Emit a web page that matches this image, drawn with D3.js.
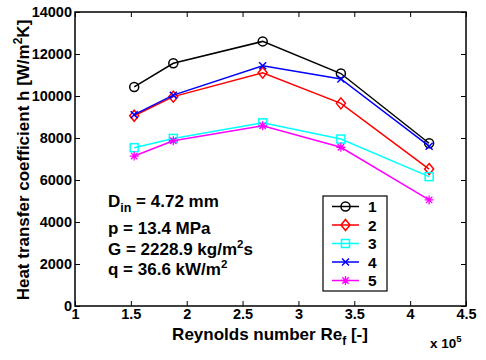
<!DOCTYPE html>
<html>
<head>
<meta charset="utf-8">
<script src="https://cdn.jsdelivr.net/npm/d3@7"></script>
<style>
  html, body { margin: 0; padding: 0; background: #fff; }
  svg { display: block; font-family: "Liberation Sans", Arial, Helvetica, sans-serif; font-weight: bold; }
</style>
</head>
<body>
<svg id="chart" width="486" height="360"></svg>
<script>
// Reynolds numbers (x 10^5) shared by all runs
const reynolds = [1.53, 1.88, 2.68, 3.38, 4.17];

// Heat transfer coefficient h [W/m2K] for each run
const run1 = [10430, 11560, 12600, 11070, 7750];
const run2 = [9060, 9970, 11110, 9650, 6520];
const run3 = [7540, 7980, 8720, 7950, 6160];
const run4 = [9110, 10040, 11440, 10810, 7610];
const run5 = [7140, 7870, 8580, 7560, 5050];

const seriesNames = ["1", "2", "3", "4", "5"];
const seriesColors = ["#000000", "#ff0000", "#00ffff", "#0000ff", "#ff00ff"];
const seriesMarkers = ["circle", "diamond", "square", "x", "star"];

const xTicks = [1, 1.5, 2, 2.5, 3, 3.5, 4, 4.5];
const yTicks = [0, 2000, 4000, 6000, 8000, 10000, 12000, 14000];

const svg = d3.select("#chart");
const m = { left: 75, top: 12, right: 466, bottom: 306 };

const x = d3.scaleLinear().domain([1, 4.5]).range([m.left, m.right]);
const y = d3.scaleLinear().domain([0, 14000]).range([m.bottom, m.top]);

// axes with inward ticks, mirrored on top/right
const tickLen = 5;
svg.append("g").attr("transform", `translate(0,${m.bottom})`)
  .call(d3.axisBottom(x).tickValues(xTicks).tickSizeInner(-tickLen).tickSizeOuter(0).tickPadding(3).tickFormat(d3.format("")))
  .call(g => g.select(".domain").remove());
svg.append("g").attr("transform", `translate(0,${m.top})`)
  .call(d3.axisTop(x).tickValues(xTicks).tickSizeInner(-tickLen).tickSizeOuter(0).tickFormat(""))
  .call(g => g.select(".domain").remove());
svg.append("g").attr("transform", `translate(${m.left},0)`)
  .call(d3.axisLeft(y).tickValues(yTicks).tickSizeInner(-tickLen).tickSizeOuter(0).tickPadding(3).tickFormat(d3.format("")))
  .call(g => g.select(".domain").remove());
svg.append("g").attr("transform", `translate(${m.right},0)`)
  .call(d3.axisRight(y).tickValues(yTicks).tickSizeInner(-tickLen).tickSizeOuter(0).tickFormat(""))
  .call(g => g.select(".domain").remove());

svg.selectAll(".tick line").attr("stroke", "#000").attr("stroke-width", 1);
svg.selectAll(".tick text")
  .attr("font-family", "'Liberation Sans', Arial, sans-serif")
  .attr("font-weight", "bold").attr("font-size", 14.5).attr("fill", "#000");

// plot box
svg.append("rect")
  .attr("x", m.left).attr("y", m.top)
  .attr("width", m.right - m.left).attr("height", m.bottom - m.top)
  .attr("fill", "none").attr("stroke", "#000").attr("stroke-width", 1.5);

// marker drawing
function drawMarker(g, type, cx, cy, color) {
  const s = 4.5;
  if (type === "circle") {
    g.append("circle").attr("cx", cx).attr("cy", cy).attr("r", s)
      .attr("fill", "none").attr("stroke", color).attr("stroke-width", 1.5);
  } else if (type === "diamond") {
    g.append("path").attr("d", `M${cx},${cy - s - 1}L${cx + s},${cy}L${cx},${cy + s + 1}L${cx - s},${cy}Z`)
      .attr("fill", "none").attr("stroke", color).attr("stroke-width", 1.5);
  } else if (type === "square") {
    g.append("rect").attr("x", cx - 4).attr("y", cy - 4).attr("width", 8).attr("height", 8)
      .attr("fill", "none").attr("stroke", color).attr("stroke-width", 1.5);
  } else if (type === "x") {
    const d = 3.5;
    g.append("path").attr("d", `M${cx - d},${cy - d}L${cx + d},${cy + d}M${cx - d},${cy + d}L${cx + d},${cy - d}`)
      .attr("stroke", color).attr("stroke-width", 1.5);
  } else if (type === "star") {
    const d = 4.5, e = 3.2;
    g.append("path").attr("d",
      `M${cx - e},${cy - e}L${cx + e},${cy + e}M${cx - e},${cy + e}L${cx + e},${cy - e}` +
      `M${cx - d},${cy}L${cx + d},${cy}M${cx},${cy - d}L${cx},${cy + d}`)
      .attr("stroke", color).attr("stroke-width", 1.3);
  }
}

const allRuns = [run1, run2, run3, run4, run5];
const line = d3.line().x((d, i) => x(reynolds[i])).y(d => y(d));

allRuns.forEach((vals, k) => {
  const g = svg.append("g");
  g.append("path").datum(vals).attr("d", line)
    .attr("fill", "none").attr("stroke", seriesColors[k]).attr("stroke-width", 1.5);
  vals.forEach((v, i) => drawMarker(g, seriesMarkers[k], x(reynolds[i]), y(v), seriesColors[k]));
});

// axis labels
svg.append("text").attr("x", 270).attr("y", 339.5).attr("text-anchor", "middle")
  .attr("font-size", 17).attr("fill", "#000")
  .call(t => {
    t.append("tspan").text("Reynolds number Re");
    t.append("tspan").attr("font-size", 12).attr("dy", 5).text("f");
    t.append("tspan").attr("dy", -5).text(" [-]");
  });

svg.append("text").attr("x", 430).attr("y", 348)
  .attr("font-size", 13.5).attr("fill", "#000")
  .call(t => {
    t.append("tspan").text("x 10");
    t.append("tspan").attr("font-size", 9.5).attr("dy", -6).text("5");
  });

svg.append("text").attr("transform", "translate(29,160) rotate(-90)")
  .attr("text-anchor", "middle").attr("font-size", 17).attr("fill", "#000")
  .call(t => {
    t.append("tspan").text("Heat transfer coefficient h [W/m");
    t.append("tspan").attr("font-size", 12).attr("dy", -7).text("2");
    t.append("tspan").attr("dy", 7).text("K]");
  });

// operating conditions
const notes = svg.append("g").attr("font-size", 17).attr("fill", "#000");
notes.append("text").attr("x", 108).attr("y", 207).call(t => {
  t.append("tspan").text("D");
  t.append("tspan").attr("font-size", 12.5).attr("dy", 5).text("in");
  t.append("tspan").attr("dy", -5).text(" = 4.72 mm");
});
notes.append("text").attr("x", 108).attr("y", 234).text("p = 13.4 MPa");
notes.append("text").attr("x", 108).attr("y", 255).call(t => {
  t.append("tspan").text("G = 2228.9 kg/m");
  t.append("tspan").attr("font-size", 11.5).attr("dy", -7).text("2");
  t.append("tspan").attr("dy", 7).text("s");
});
notes.append("text").attr("x", 108).attr("y", 275).call(t => {
  t.append("tspan").text("q = 36.6 kW/m");
  t.append("tspan").attr("font-size", 11.5).attr("dy", -7).text("2");
});

// legend
const leg = svg.append("g");
leg.append("rect").attr("x", 323).attr("y", 196).attr("width", 64).attr("height", 95)
  .attr("fill", "#fff").attr("stroke", "#000").attr("stroke-width", 1.2);
seriesNames.forEach((name, k) => {
  const ly = 206.5 + k * 18.5;
  leg.append("line").attr("x1", 332).attr("x2", 359).attr("y1", ly).attr("y2", ly)
    .attr("stroke", seriesColors[k]).attr("stroke-width", 1.5);
  drawMarker(leg, seriesMarkers[k], 345.5, ly, seriesColors[k]);
  leg.append("text").attr("x", 368).attr("y", ly + 5.5).attr("font-size", 15.5).attr("fill", "#000").text(name);
});
</script>
</body>
</html>
